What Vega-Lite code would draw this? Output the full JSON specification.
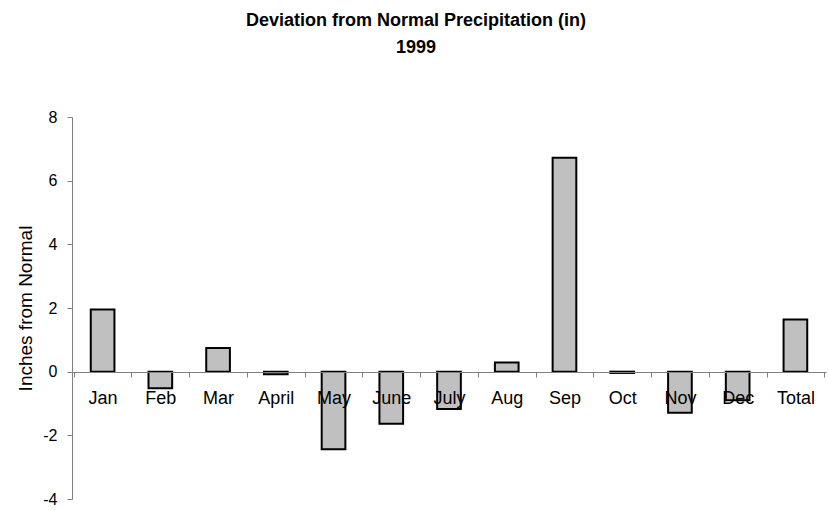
{
  "$schema": "https://vega.github.io/schema/vega-lite/v6.json",
  "autosize": {"type": "none"},
  "width": 754,
  "height": 382,
  "padding": {"left": 72, "top": 117, "right": 2, "bottom": 11},
  "background": "white",
  "title": {
    "text": ["Deviation from Normal Precipitation (in)", "1999"],
    "font": "Liberation Sans",
    "fontSize": 18,
    "fontWeight": "bold",
    "color": "black",
    "anchor": "middle",
    "frame": "group",
    "dx": -33,
    "offset": 52,
    "lineHeight": 27
  },
  "data": {
    "values": [
      {"month": "Jan", "dev": 1.95},
      {"month": "Feb", "dev": -0.52},
      {"month": "Mar", "dev": 0.74},
      {"month": "April", "dev": -0.08},
      {"month": "May", "dev": -2.44},
      {"month": "June", "dev": -1.64},
      {"month": "July", "dev": -1.17},
      {"month": "Aug", "dev": 0.29},
      {"month": "Sep", "dev": 6.72},
      {"month": "Oct", "dev": -0.04},
      {"month": "Nov", "dev": -1.29},
      {"month": "Dec", "dev": -0.9},
      {"month": "Total", "dev": 1.64}
    ]
  },
  "mark": {
    "type": "bar",
    "fill": "#C0C0C0",
    "stroke": "black",
    "strokeWidth": 2,
    "width": {"band": 0.41}
  },
  "encoding": {
    "x": {
      "field": "month",
      "type": "nominal",
      "sort": null,
      "scale": {"paddingInner": 0, "paddingOuter": 0.03},
      "axis": {
        "title": null,
        "orient": "bottom",
        "offset": -127,
        "zindex": 1,
        "labelAngle": 0,
        "tickBand": "extent",
        "tickSize": 5,
        "tickColor": "#808080",
        "domainColor": "#808080",
        "labelFont": "Liberation Sans",
        "labelFontSize": 18,
        "labelColor": "black",
        "labelPadding": 12
      }
    },
    "y": {
      "field": "dev",
      "type": "quantitative",
      "scale": {"domain": [-4, 8], "nice": false, "zero": false},
      "axis": {
        "title": "Inches from Normal",
        "titleFont": "Liberation Sans",
        "titleFontSize": 19,
        "titleFontWeight": "normal",
        "titleColor": "black",
        "titlePadding": 7,
        "values": [-4, -2, 0, 2, 4, 6, 8],
        "labelExpr": "replace(datum.label, '−', '-')",
        "grid": false,
        "tickSize": 5,
        "tickColor": "#808080",
        "domainColor": "#808080",
        "labelFont": "Liberation Sans",
        "labelFontSize": 16,
        "labelColor": "black",
        "labelPadding": 10
      }
    }
  },
  "config": {"view": {"stroke": null}}
}
